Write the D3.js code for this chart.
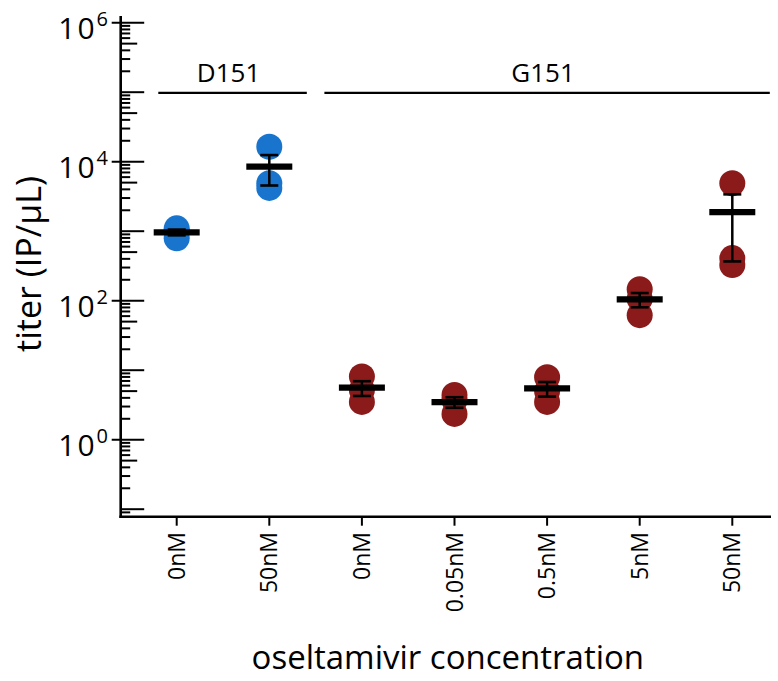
<!DOCTYPE html>
<html>
<head>
<meta charset="utf-8">
<script src="https://cdn.jsdelivr.net/npm/d3@7"></script>
<style>
  html, body { margin: 0; padding: 0; background: #fff; }
  svg { display: block; font-family: "Open Sans", "Noto Sans", sans-serif; }
</style>
</head>
<body>
<svg id="chart" width="778" height="681"></svg>
<script>
// Oseltamivir titration: three replicate titers per condition
const categories = ["0nM", "50nM", "0nM", "0.05nM", "0.5nM", "5nM", "50nM"];
const strains    = ["D151", "D151", "G151", "G151", "G151", "G151", "G151"];
const replicate1 = [1100, 16400, 8.1, 4.4, 7.9, 146, 4900];
const replicate2 = [1000, 4900, 5.2, 3.7, 5.0, 106, 410];
const replicate3 = [790, 4200, 3.5, 2.35, 3.5, 62, 325];
const strainColors = { D151: "#1874CD", G151: "#8B1A1A" };
const yMajorExponents = [0, 2, 4, 6];
const groups = [
  { name: "D151", first: 0, last: 1 },
  { name: "G151", first: 2, last: 6 }
];

const svg = d3.select("#chart");

const axisX = 120.7, axisY = 516.7, plotRight = 771;

const x = d3.scalePoint()
  .domain(d3.range(categories.length))
  .range([176.7, 732.3]);
const step = x.step();

const y = d3.scaleLog()
  .domain([1, 1e6])
  .range([439.7, 22.7]);

const yTop = y(Math.pow(10, 6.096));

// y axis line and log ticks
svg.append("line")
  .attr("x1", axisX).attr("x2", axisX)
  .attr("y1", yTop).attr("y2", axisY + 1.2)
  .attr("stroke", "#000").attr("stroke-width", 2.6);

const tickValues = [];
for (let e = -2; e <= 5; e++) {
  for (let m = 1; m <= 9; m++) {
    const v = m * Math.pow(10, e);
    if (v >= 0.09 && v <= 1e6) tickValues.push({ v, m, e });
  }
}
tickValues.push({ v: 1e6, m: 1, e: 6 });

svg.append("g").selectAll("line")
  .data(tickValues)
  .join("line")
  .attr("x1", d => (d.m === 1 && d.e % 2 === 0) ? axisX - 9 : axisX)
  .attr("x2", d => d.m === 1 ? axisX + 23.5 : (d.m === 5 ? axisX + 16.5 : axisX + 9.5))
  .attr("y1", d => y(d.v)).attr("y2", d => y(d.v))
  .attr("stroke", "#000").attr("stroke-width", 2);

// y tick labels as powers of ten
const yLabels = svg.append("g").selectAll("text")
  .data(yMajorExponents)
  .join("text")
  .attr("x", 108)
  .attr("y", d => y(Math.pow(10, d)) + 16)
  .attr("text-anchor", "end")
  .attr("font-size", 30)
  .attr("fill", "#000");
yLabels.append("tspan").attr("letter-spacing", 2).text("10");
yLabels.append("tspan")
  .attr("dy", -13)
  .attr("font-size", 20)
  .text(d => d);

// x axis line and category ticks
svg.append("line")
  .attr("x1", axisX - 1.3).attr("x2", plotRight)
  .attr("y1", axisY).attr("y2", axisY)
  .attr("stroke", "#000").attr("stroke-width", 2.6);

svg.append("g").selectAll("line")
  .data(d3.range(categories.length))
  .join("line")
  .attr("x1", d => x(d)).attr("x2", d => x(d))
  .attr("y1", axisY).attr("y2", axisY + 9)
  .attr("stroke", "#000").attr("stroke-width", 2);

svg.append("g").selectAll("text")
  .data(categories)
  .join("text")
  .attr("transform", (d, i) => `translate(${x(i)},${532}) rotate(-90)`)
  .attr("dy", "0.35em")
  .attr("text-anchor", "end")
  .attr("font-size", 23)
  .attr("fill", "#000")
  .text(d => d);

// axis titles
svg.append("text")
  .attr("x", (axisX + plotRight) / 2 + 2)
  .attr("y", 669)
  .attr("text-anchor", "middle")
  .attr("font-size", 33)
  .text("oseltamivir concentration");

svg.append("text")
  .attr("transform", `translate(41,264) rotate(-90)`)
  .attr("text-anchor", "middle")
  .attr("font-size", 34)
  .text("titer (IP/\u03bcL)");

// strain group brackets
const groupPad = 0.405 * step;
const groupG = svg.append("g");
groups.forEach(g => {
  const x0 = Math.max(x(g.first) - groupPad, axisX + 37.6);
  const x1 = x(g.last) + groupPad;
  const gy = y(1e5) + 0.6;
  groupG.append("line")
    .attr("x1", x0).attr("x2", x1)
    .attr("y1", gy).attr("y2", gy)
    .attr("stroke", "#000").attr("stroke-width", 2.2);
  groupG.append("text")
    .attr("x", (x0 + x1) / 2 - 4)
    .attr("y", 81.7)
    .attr("text-anchor", "middle")
    .attr("font-size", 26)
    .text(g.name);
});

// replicate points, then mean ± SEM
const rows = categories.map((c, i) => {
  const vals = [replicate1[i], replicate2[i], replicate3[i]];
  const mean = d3.mean(vals);
  const sem = d3.deviation(vals) / Math.sqrt(vals.length);
  return { i, strain: strains[i], vals, mean, sem };
});

const pts = svg.append("g");
rows.forEach(r => {
  pts.selectAll(null)
    .data(r.vals)
    .join("circle")
    .attr("cx", x(r.i))
    .attr("cy", v => y(v))
    .attr("r", 13)
    .attr("fill", strainColors[r.strain]);
});

const stats = svg.append("g").attr("stroke", "#000");
rows.forEach(r => {
  const cx = x(r.i);
  const yHi = y(r.mean + r.sem), yLo = y(r.mean - r.sem);
  stats.append("line")
    .attr("x1", cx).attr("x2", cx).attr("y1", yHi).attr("y2", yLo)
    .attr("stroke-width", 2.5);
  [yHi, yLo].forEach(yy => stats.append("line")
    .attr("x1", cx - 9).attr("x2", cx + 9).attr("y1", yy).attr("y2", yy)
    .attr("stroke-width", 2.6));
  stats.append("line")
    .attr("x1", cx - 23).attr("x2", cx + 23)
    .attr("y1", y(r.mean)).attr("y2", y(r.mean))
    .attr("stroke-width", 6.2);
});
</script>
</body>
</html>
